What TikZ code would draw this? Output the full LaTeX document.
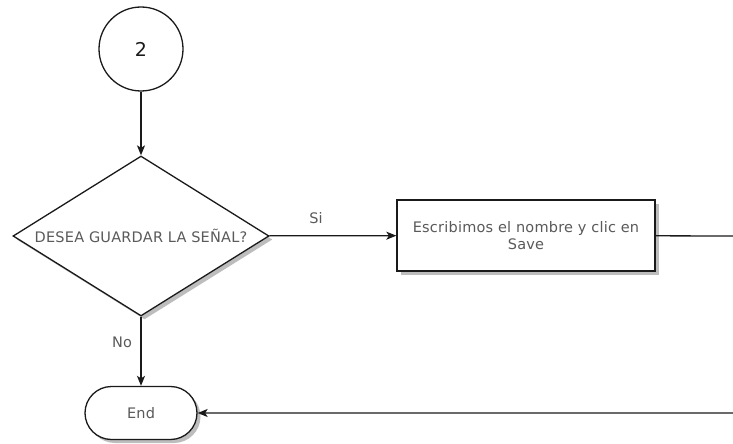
\documentclass[tikz,border=0pt]{standalone}
\usepackage{fontspec}
\setmainfont{DejaVu Sans}[LetterSpace=1.5]
\usetikzlibrary{shapes.geometric,shapes.misc,shadows,arrows.meta}
\definecolor{ink}{HTML}{1A1A1A}
\definecolor{txt}{HTML}{5A5A5A}
\definecolor{shade}{HTML}{BDBDBD}
\tikzset{
  base/.style={draw=ink, line width=1.3pt, fill=white, inner sep=0pt, text=txt,
    font=\fontsize{14.5}{17.5}\selectfont},
  shadowed/.style={drop shadow={shadow xshift=3.5pt, shadow yshift=-3.5pt,
    fill=shade, opacity=1}},
  connector/.style={base, circle},
  decision/.style={base, shadowed, diamond, shape aspect=1.6,
    minimum width=256pt, minimum height=160pt},
  process/.style={base, shadowed, rectangle, minimum width=258pt,
    minimum height=71pt, align=center},
  terminal/.style={base, shadowed, rounded rectangle, minimum width=112pt,
    minimum height=53pt},
  flow/.style={draw=ink, line width=1.3pt,
    -{Stealth[length=10pt, width=8pt, inset=2.5pt]}},
  plain/.style={draw=ink, line width=1.3pt},
  edgelabel/.style={text=txt, font=\fontsize{14.5}{17}\selectfont, inner sep=0pt}
}
\begin{document}
\begin{tikzpicture}[x=1pt, y=1pt]
  \useasboundingbox (0,0) rectangle (733,-444);

  % shapes
  \node[connector, minimum size=84pt, text=ink,
        font=\fontsize{19}{21}\selectfont] (two) at (141,-49) {2};
  \node[decision] (ask) at (141,-236) {DESEA GUARDAR LA SEÑAL?};
  \node[process] (save) at (526,-235.5)
        {Escribimos el nombre y clic en\\Save};
  \node[terminal] (end) at (141,-413) {End};

  % loose ends at the right margin
  \coordinate (outR) at (733,-236);
  \coordinate (inR) at (733,-413);

  % connectors
  \draw[flow] (two) -- (ask);
  \draw[flow] (ask) -- (save);
  \draw[flow] (ask) -- (end);
  \draw[plain] (save) -- (outR);
  \draw[flow] (inR) -- (end);

  % branch labels
  \node[edgelabel] (si) at (316,-218) {Si};
  \node[edgelabel] (no) at (122,-342) {No};
\end{tikzpicture}
\end{document}
